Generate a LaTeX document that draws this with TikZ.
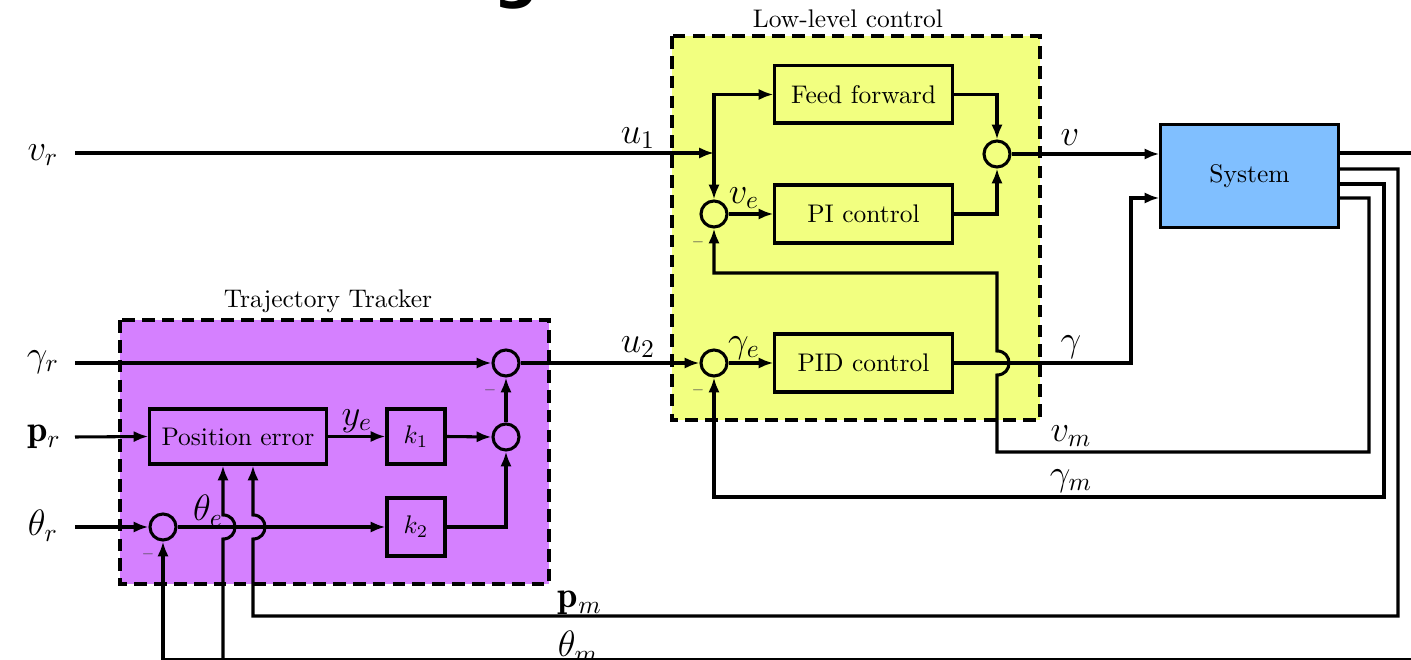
\documentclass[tikz,border=0pt]{standalone}
\usepackage{fontspec}
\newfontfamily\headfont{DejaVu Sans}
\usetikzlibrary{arrows.meta,calc}
\definecolor{llc}{RGB}{242,255,128}
\definecolor{ttc}{RGB}{213,128,255}
\definecolor{sysc}{RGB}{128,191,255}
\begin{document}
\begin{tikzpicture}[x=0.0138cm,y=-0.0138cm,
  wire/.style={very thick},
  arr/.style={very thick,-{Latex[length=5.8pt,width=4.4pt]}},
  blk/.style={draw,very thick,rectangle,inner sep=0pt},
  sumc/.style={draw,very thick,circle,minimum size=0.359cm,inner sep=0pt},
  siglab/.style={font=\Large,inner sep=0pt},
  minus/.style={font=\tiny,text=black!70,inner sep=0pt},
  region/.style={draw,very thick,dash pattern=on 5pt off 2.8pt}]
\useasboundingbox (0,0) rectangle (1411,660);
\clip (0,0) rectangle (1411,660);

% partial title glyph
\node[font=\headfont\bfseries\fontsize{25}{25}\selectfont,anchor=base,inner sep=0pt] (ttl) at (516,-4) {g};

% regions
\path[fill=llc] (672,36) rectangle (1040,420);
\path[fill=ttc] (120,320) rectangle (549,584);
\node (tll) at (848,19) {Low-level control};
\node (ttt) at (328,301) {Trajectory Tracker};

% blocks
\node[blk,minimum width=2.443cm,minimum height=0.787cm] (ff) at (863.5,94.5) {Feed forward};
\node[blk,minimum width=2.443cm,minimum height=0.80cm] (pi) at (863.5,214) {PI control};
\node[blk,minimum width=2.443cm,minimum height=0.80cm] (pid) at (863.5,363) {PID control};
\node[blk,fill=sysc,minimum width=2.443cm,minimum height=1.408cm] (sys) at (1249.5,176) {System};
\node[blk,minimum width=2.43cm,minimum height=0.759cm] (pe) at (238,436.5) {Position error};
\node[blk,minimum width=0.80cm,minimum height=0.759cm] (k1) at (416,436.5) {$k_1$};
\node[blk,minimum width=0.80cm,minimum height=0.80cm] (k2) at (416,527) {$k_2$};

% summing junctions
\node[sumc] (sv) at (997,154) {};
\node[sumc] (sve) at (714,214) {};
\node[sumc] (sge) at (714,363) {};
\node[sumc] (stt) at (506,363) {};
\node[sumc] (sk) at (506,437) {};
\node[sumc] (ste) at (163,527) {};

% input coordinates
\coordinate (ivr) at (75,153);
\coordinate (igr) at (75,363);
\coordinate (ipr) at (75,437);
\coordinate (itr) at (75,527);
\coordinate (jn1) at (714,153);

% input labels
\node[siglab] (lvr) at (43,155) {$v_r$};
\node[siglab] (lgr) at (43,362) {$\gamma_r$};
\node[siglab] (lpr) at (44,437) {$\mathbf{p}_r$};
\node[siglab] (ltr) at (43,526) {$\theta_r$};

% system output points
\coordinate (o1) at ($(sys.east)+(0,-23)$);
\coordinate (o2) at ($(sys.east)+(0,-7)$);
\coordinate (o3) at ($(sys.east)+(0,8)$);
\coordinate (o4) at ($(sys.east)+(0,22)$);

% low-level control wiring
\draw[arr] (ivr) -- (jn1);
\draw[arr] (jn1) |- (ff.west);
\draw[arr] (jn1) -- (sve.north);
\draw[arr] (ff.east) -| (sv.north);
\draw[arr] (pi.east) -| (sv.south);
\draw[arr] (sve.east) -- (pi.west);
\draw[arr] (sv.east) -- (sv.east -| sys.west);
\draw[arr] (sge.east) -- (pid.west);
\draw[arr] (pid.east) -- (1131,363) |- ($(sys.west)+(0,22)$);

% feedback v_m
\draw[arr] (o4) -| (1369,452) -- (997,452) -- (997,375)
  .. controls (1013,375) and (1013,351) .. (997,351) -- (997,273) -| (sve.south);
% feedback gamma_m
\draw[arr] (o3) -| (1384,497) -| (sge.south);

% trajectory tracker wiring
\draw[arr] (igr) -- (stt.west);
\draw[arr] (stt.east) -- (sge.west);
\draw[arr] (ipr) -- (pe.west);
\draw[arr] (pe.east) -- (k1.west);
\draw[arr] (k1.east) -- (sk.west);
\draw[arr] (sk.north) -- (stt.south);
\draw[arr] (itr) -- (ste.west);
\draw[arr] (ste.east) -- (k2.west);
\draw[arr] (k2.east) -| (sk.south);

% feedback p_m
\draw[arr] (o2) -| (1398,616) -- (253,616) -- (253,539)
  .. controls (269,539) and (269,515) .. (253,515) -- (pe.south -| 253,0);
% feedback theta_m
\draw[wire] (o1) -- (1430,153) -- (1430,660) -- (163,660);
\draw[arr] (163,660) -- (ste.south);
\draw[arr] (223,660) -- (223,539)
  .. controls (239,539) and (239,515) .. (223,515) -- (pe.south -| 223,0);

% region borders
\draw[region] (672,36) rectangle (1040,420);
\draw[region] (120,320) rectangle (549,584);

% signal labels
\node[siglab] (lu1) at (638,138) {$u_1$};
\node[siglab] (lu2) at (638,347) {$u_2$};
\node[siglab] (lv) at (1070,138) {$v$};
\node[siglab] (lg) at (1071,347) {$\gamma$};
\node[siglab] (lvm) at (1071,436) {$v_m$};
\node[siglab] (lgm) at (1071,481) {$\gamma_m$};
\node[siglab] (lpm) at (580,603) {$\mathbf{p}_m$};
\node[siglab] (ltm) at (578,647) {$\theta_m$};
\node[siglab] (lve) at (744,198) {$v_e$};
\node[siglab] (lge) at (744,348) {$\gamma_e$};
\node[siglab] (lye) at (357,421) {$y_e$};
\node[siglab] (lte) at (208,511) {$\theta_e$};

% minus signs
\node[minus] (m1) at (698,242) {$-$};
\node[minus] (m2) at (698,390) {$-$};
\node[minus] (m3) at (490,390) {$-$};
\node[minus] (m4) at (148,554) {$-$};
\end{tikzpicture}
\end{document}
